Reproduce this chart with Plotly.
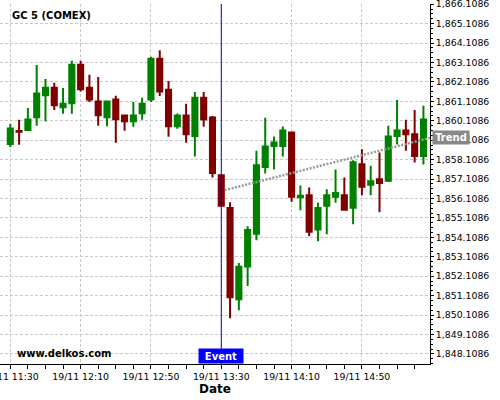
import plotly.graph_objects as go

DAY = "2020-11-19 "
times = ["11:30", "11:35", "11:40", "11:45", "11:50", "11:55", "12:00", "12:05",
         "12:10", "12:15", "12:20", "12:25", "12:30", "12:35", "12:40", "12:45",
         "12:50", "12:55", "13:00", "13:05", "13:10", "13:15", "13:20", "13:25",
         "13:30", "13:35", "13:40", "13:45", "13:50", "13:55", "14:00", "14:05",
         "14:10", "14:15", "14:20", "14:25", "14:30", "14:35", "14:40", "14:45",
         "14:50", "14:55", "15:00", "15:05", "15:10", "15:15", "15:20", "15:25"]
opens = [1858.91, 1859.58, 1859.63, 1860.29, 1861.42, 1861.81, 1860.80, 1861.01,
         1862.99, 1861.81, 1861.10, 1860.29, 1861.20, 1860.38, 1860.09, 1860.50,
         1861.21, 1863.30, 1861.71, 1859.83, 1860.38, 1859.32, 1861.30, 1860.28,
         1857.31, 1855.62, 1850.92, 1852.61, 1854.30, 1857.73, 1858.81, 1858.81,
         1859.51, 1856.17, 1856.28, 1854.51, 1855.74, 1856.20, 1856.28, 1855.63,
         1857.87, 1856.81, 1857.10, 1857.02, 1859.32, 1859.61, 1859.41, 1858.30]
highs = [1859.95, 1860.16, 1860.77, 1862.98, 1862.26, 1862.07, 1861.80, 1863.20,
         1863.20, 1862.48, 1862.36, 1861.10, 1861.40, 1860.38, 1861.08, 1861.29,
         1863.40, 1863.74, 1862.16, 1860.48, 1860.98, 1861.59, 1861.59, 1860.36,
         1857.35, 1855.91, 1852.79, 1854.68, 1858.57, 1860.26, 1859.30, 1859.82,
         1859.51, 1856.78, 1856.68, 1855.89, 1856.58, 1857.60, 1857.19, 1858.08,
         1858.65, 1857.80, 1858.47, 1859.85, 1861.18, 1860.16, 1860.67, 1860.88]
lows = [1858.76, 1858.88, 1859.58, 1859.85, 1860.07, 1860.67, 1860.47, 1860.47,
        1861.62, 1861.08, 1859.85, 1859.83, 1858.98, 1859.60, 1859.80, 1860.16,
        1861.08, 1861.39, 1859.29, 1859.70, 1858.98, 1858.27, 1859.80, 1857.19,
        1855.74, 1849.95, 1850.36, 1851.61, 1853.96, 1857.39, 1857.60, 1858.27,
        1855.94, 1855.50, 1854.17, 1853.91, 1854.27, 1855.89, 1855.48, 1854.78,
        1856.27, 1856.27, 1855.40, 1856.96, 1858.89, 1858.57, 1857.96, 1857.86]
closes = [1859.71, 1859.54, 1860.18, 1861.51, 1861.81, 1860.91, 1860.99, 1862.99,
          1861.73, 1861.20, 1860.40, 1861.10, 1860.19, 1860.09, 1860.38, 1860.99,
          1863.30, 1861.62, 1859.83, 1860.38, 1859.42, 1861.30, 1860.19, 1857.42,
          1855.74, 1851.03, 1852.60, 1854.49, 1857.82, 1858.79, 1858.99, 1859.61,
          1856.20, 1856.25, 1854.40, 1855.62, 1856.27, 1856.39, 1855.53, 1857.97,
          1856.71, 1857.00, 1856.91, 1859.30, 1859.61, 1859.42, 1858.30, 1860.18]

trend_times = ["13:32", "15:28:44"]
trend_values = [1856.54, 1859.23]
event_time = "13:30"
x_range = ["11:24:08", "15:28:44"]
y_range = [1847.59, 1866.12]
y_tick0 = 1848.1086

GREEN = "#008000"
RED = "#800000"
GRID = "#c8c8c8"
FONT = "DejaVu Sans"

fig = go.Figure()
fig.add_trace(go.Candlestick(
    x=[DAY + t for t in times], open=opens, high=highs, low=lows, close=closes,
    increasing=dict(line=dict(color=GREEN, width=2), fillcolor=GREEN),
    decreasing=dict(line=dict(color=RED, width=2), fillcolor=RED),
    whiskerwidth=0, showlegend=False, hoverinfo="skip",
))
fig.add_trace(go.Scatter(
    x=[DAY + t for t in trend_times], y=trend_values, mode="lines",
    line=dict(color="#999999", width=2.5, dash="2px,1.5px"),
    showlegend=False, hoverinfo="skip",
))

fig.add_shape(type="line", xref="x", yref="paper",
              x0=DAY + event_time, x1=DAY + event_time, y0=0, y1=1,
              line=dict(color="#0000ff", width=1))

fig.add_annotation(x=DAY + event_time, xref="x", y=0, yref="paper",
                   xanchor="center", yanchor="bottom", text="<b>Event</b>",
                   showarrow=False, bgcolor="#0000ff", borderpad=0,
                   width=44, height=14,
                   font=dict(family=FONT, size=10, color="white"))
fig.add_annotation(x=1, xref="paper", y=trend_values[-1], yref="y",
                   xanchor="left", yanchor="middle", xshift=2,
                   text="<b>Trend</b>", showarrow=False, bgcolor="#888888",
                   borderpad=0, width=36, height=13,
                   font=dict(family=FONT, size=10, color="white"))
fig.add_annotation(x=10 / 430, xref="paper", y=(364 - 15.3) / 360, yref="paper",
                   xanchor="left", yanchor="middle", text="<b>GC 5 (COMEX)</b>",
                   showarrow=False, font=dict(family=FONT, size=10, color="black"))
fig.add_annotation(x=15 / 430, xref="paper", y=(364 - 353.5) / 360, yref="paper",
                   xanchor="left", yanchor="middle", text="<b>www.delkos.com</b>",
                   showarrow=False, font=dict(family=FONT, size=10, color="black"))

fig.update_layout(
    width=500, height=400,
    margin=dict(l=0, r=70, t=4, b=36, autoexpand=False),
    paper_bgcolor="white", plot_bgcolor="white",
    boxgap=0.42, boxgroupgap=0,
    font=dict(family=FONT, size=9.33, color="black"),
    xaxis=dict(
        type="date", range=[DAY + x_range[0], DAY + x_range[1]],
        rangeslider=dict(visible=False), automargin=False,
        tick0=DAY + "11:30", dtick=40 * 60 * 1000, tickformat="%d/%m %H:%M",
        ticks="outside", ticklen=4, tickcolor="black",
        showline=True, linecolor="black", linewidth=1,
        showgrid=True, gridcolor=GRID, griddash="3px,2px", gridwidth=1,
        zeroline=False, ticklabeloverflow="allow",
        minor=dict(dtick=10 * 60 * 1000, tick0=DAY + "11:30", ticks="outside",
                   ticklen=4, tickcolor="black", showgrid=False),
        title=dict(text="<b>Date</b>", font=dict(family=FONT, size=12, color="black"),
                   standoff=2),
        tickfont=dict(family=FONT, size=9.33, color="black"),
    ),
    yaxis=dict(
        side="right", range=y_range, automargin=False,
        tick0=y_tick0, dtick=1, tickformat=",.4f",
        ticks="outside", ticklen=3, tickcolor="black",
        showline=True, linecolor="black", linewidth=1,
        showgrid=True, gridcolor=GRID, griddash="3px,2px", gridwidth=1,
        zeroline=False, ticklabeloverflow="allow",
        minor=dict(dtick=0.25, tick0=y_tick0, ticks="outside", ticklen=2,
                   tickcolor="black", showgrid=False),
        tickfont=dict(family=FONT, size=9.33, color="black"),
    ),
)

fig.write_html("out.html", config={"displayModeBar": False},
               post_script="document.body.style.margin='0';")
